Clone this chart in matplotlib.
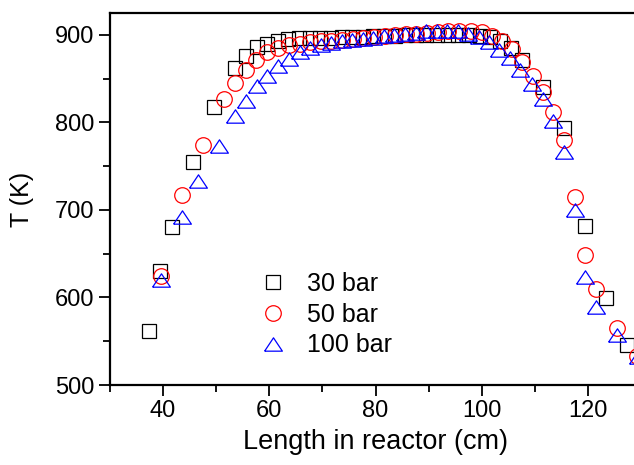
import matplotlib.pyplot as plt

plt.rcParams['font.family'] = ['Liberation Sans', 'DejaVu Sans']

# 30 bar
x30 = [37.3, 39.5, 41.6, 45.6, 49.6, 53.6, 55.6, 57.6, 59.6, 61.6,
       63.6, 65.6, 67.6, 69.6, 71.6, 73.6, 75.6, 77.6, 79.6, 81.6,
       83.6, 85.6, 87.6, 89.6, 91.6, 93.6, 95.6, 97.6, 99.6, 101.5,
       103.5, 105.5, 107.5, 111.5, 115.5, 119.5, 123.5, 127.4]
T30 = [562, 630, 680, 755, 818, 862, 876, 886, 890, 893,
       895, 896, 896.5, 897, 897, 897.5, 898, 898, 898.5, 899,
       899, 899.5, 900, 900, 900, 900, 900, 899.5, 899, 898,
       893, 885, 871, 840, 794, 682, 599, 546]

# 50 bar
x50 = [39.6, 43.6, 47.6, 51.5, 53.5, 55.6, 57.5, 59.6, 61.7, 63.7,
       65.7, 67.7, 69.7, 71.7, 73.7, 75.7, 77.7, 79.7, 81.7, 83.7,
       85.7, 87.7, 89.7, 91.7, 93.7, 95.7, 97.9, 100.0, 101.9, 103.8,
       105.7, 107.6, 109.6, 111.5, 113.5, 115.5, 117.6, 119.5, 121.5, 125.4,
       129.3]
T50 = [625, 717, 774, 827, 845, 860, 871, 880, 885, 888.6,
       890, 891.5, 892.5, 893.5, 894.5, 895.5, 896.5, 897.5, 898.5, 899.5,
       900.5, 901.5, 902.5, 903.5, 904, 904.5, 904.5, 903, 899, 893,
       884, 869, 853, 835, 812, 780, 715, 649, 610, 565,
       533]

# 100 bar
x100 = [39.6, 43.6, 46.6, 50.5, 53.5, 55.6, 57.6, 59.6, 61.7, 63.7,
        65.7, 67.7, 69.7, 71.6, 73.6, 75.5, 77.6, 79.6, 81.6, 83.5,
        85.6, 87.6, 89.5, 91.5, 93.5, 95.6, 97.5, 99.4, 101.4, 103.3,
        105.3, 107.3, 109.4, 111.5, 113.5, 115.5, 117.6, 119.5, 121.5, 125.4,
        129.4]
T100 = [620, 692, 733, 773, 807, 824, 842, 853, 864, 872,
        880, 885, 888.8, 890.6, 892.6, 894.5, 895.7, 897, 899, 899.5,
        900.5, 902, 904, 905, 905, 904, 901.4, 897.5, 891.4, 883,
        873.5, 860, 844, 826.5, 802, 766.6, 700, 623, 589, 557,
        532]

tri = [(-1, -0.75), (1, -0.75), (0, 0.75), (-1, -0.75)]

fig = plt.figure(figsize=(6.34, 4.65), dpi=100)
ax = fig.add_axes([110/634, 80/465, 531/634, 372/465])

ax.plot(x30, T30, 's', ms=9.4, mfc='none', mec='black', mew=0.9, label='30 bar')
ax.plot(x50, T50, 'o', ms=11.2, mfc='none', mec='red', mew=0.9, label='50 bar')
ax.plot(x100, T100, marker=tri, ls='none', ms=12.8, mfc='none', mec='blue', mew=0.9, label='100 bar')

ax.set_xlim(30, 130)
ax.set_ylim(500, 925)
ax.set_xticks([40, 60, 80, 100, 120])
ax.set_xticks([30, 50, 70, 90, 110, 130], minor=True)
ax.set_yticks([500, 600, 700, 800, 900])
ax.set_yticks([550, 650, 750, 850], minor=True)

ax.tick_params(which='major', direction='out', length=8, width=1.3, labelsize=17, pad=3)
ax.tick_params(which='minor', direction='out', length=5, width=1.3)
for s in ax.spines.values():
    s.set_linewidth(1.6)

ax.set_xlabel('Length in reactor (cm)', fontsize=19.5, labelpad=5)
ax.set_ylabel('T (K)', fontsize=18, labelpad=15)

ax.legend(loc='upper left', bbox_to_anchor=(0.255, 0.338), frameon=False,
          fontsize=18, handletextpad=0.75, labelspacing=0.27, borderpad=0,
          handlelength=1.2)

plt.savefig('out.png', dpi=100)
